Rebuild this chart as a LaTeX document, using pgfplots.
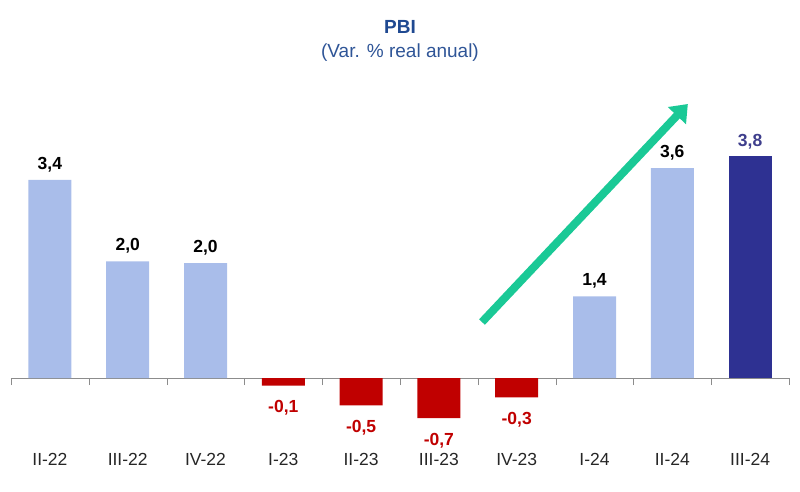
\documentclass[border=0pt]{standalone}
\usepackage{pgfplots}
\pgfplotsset{compat=1.18}
\usepackage{pgfplotstable}
\usetikzlibrary{arrows.meta}
\usepackage{fontspec}
\setmainfont{Liberation Sans}

\definecolor{lightbar}{RGB}{169,189,234}
\definecolor{darkbar}{RGB}{46,49,146}
\definecolor{redbar}{RGB}{192,0,0}
\definecolor{titleblue}{RGB}{31,73,145}
\definecolor{subblue}{RGB}{47,85,151}
\definecolor{darklab}{RGB}{62,62,140}
\definecolor{arrowgreen}{RGB}{26,201,150}

\pgfplotstableread{
x y lab
0 3.4 3,4
1 2.0 2,0
2 1.97 2,0
7 1.4 1,4
8 3.6 3,6
}\lightdata
\pgfplotstableread{
x y lab
3 -0.13 -0,1
4 -0.47 -0,5
5 -0.69 -0,7
6 -0.33 -0,3
}\reddata
\pgfplotstableread{
x y lab
9 3.8 3,8
}\darkdata

\begin{document}
\begin{tikzpicture}
\begin{axis}[
  scale only axis, width=778pt, height=492pt,
  xmin=-0.5, xmax=9.5, ymin=-1.955, ymax=6.484,
  axis y line=none, axis x line=middle,
  x axis line style={-, draw=black!45},
  ybar, bar width=43pt,
  xtick={0,...,9},
  xticklabels={II-22,III-22,IV-22,I-23,II-23,III-23,IV-23,I-24,II-24,III-24},
  major tick length=0pt,
  extra x ticks={-0.5,0.5,...,9.5},
  extra x tick labels={},
  extra x tick style={major tick length=7pt, tick align=outside, tick style={draw=black!45}},
  xticklabel style={font=\fontsize{17.5}{20}\selectfont, text=black!85, anchor=base, yshift=-87pt},
  point meta=explicit symbolic,
  clip=false,
]
\addplot[fill=lightbar, draw=none, bar shift=0pt,
  nodes near coords,
  every node near coord/.append style={font=\bfseries\fontsize{17.5}{20}\selectfont, text=black, anchor=base, yshift=10.5pt}]
  table[x=x, y=y, meta=lab] {\lightdata};
\addplot[fill=redbar, draw=none, bar shift=0pt,
  nodes near coords,
  every node near coord/.append style={font=\bfseries\fontsize{17.5}{20}\selectfont, text=redbar, anchor=base, yshift=-27pt}]
  table[x=x, y=y, meta=lab] {\reddata};
\addplot[fill=darkbar, draw=none, bar shift=0pt,
  nodes near coords,
  every node near coord/.append style={font=\bfseries\fontsize{17.5}{20}\selectfont, text=darklab, anchor=base, yshift=9.5pt}]
  table[x=x, y=y, meta=lab] {\darkdata};
\draw[line width=8pt, arrowgreen, -{Triangle[length=16pt, width=24pt]}]
  (axis cs:5.554,0.96) -- (axis cs:8.20,4.70);
\node[anchor=base, font=\bfseries\fontsize{19}{22}\selectfont, text=titleblue] at (axis cs:4.5,5.91) {PBI};
\node[anchor=base, font=\fontsize{19}{22}\selectfont, text=subblue] at (axis cs:4.5,5.49) {(Var. \% real anual)};
\end{axis}
\path ([xshift=-11pt]current axis.south west) rectangle ([xshift=11pt]current axis.north east);
\end{tikzpicture}
\end{document}
